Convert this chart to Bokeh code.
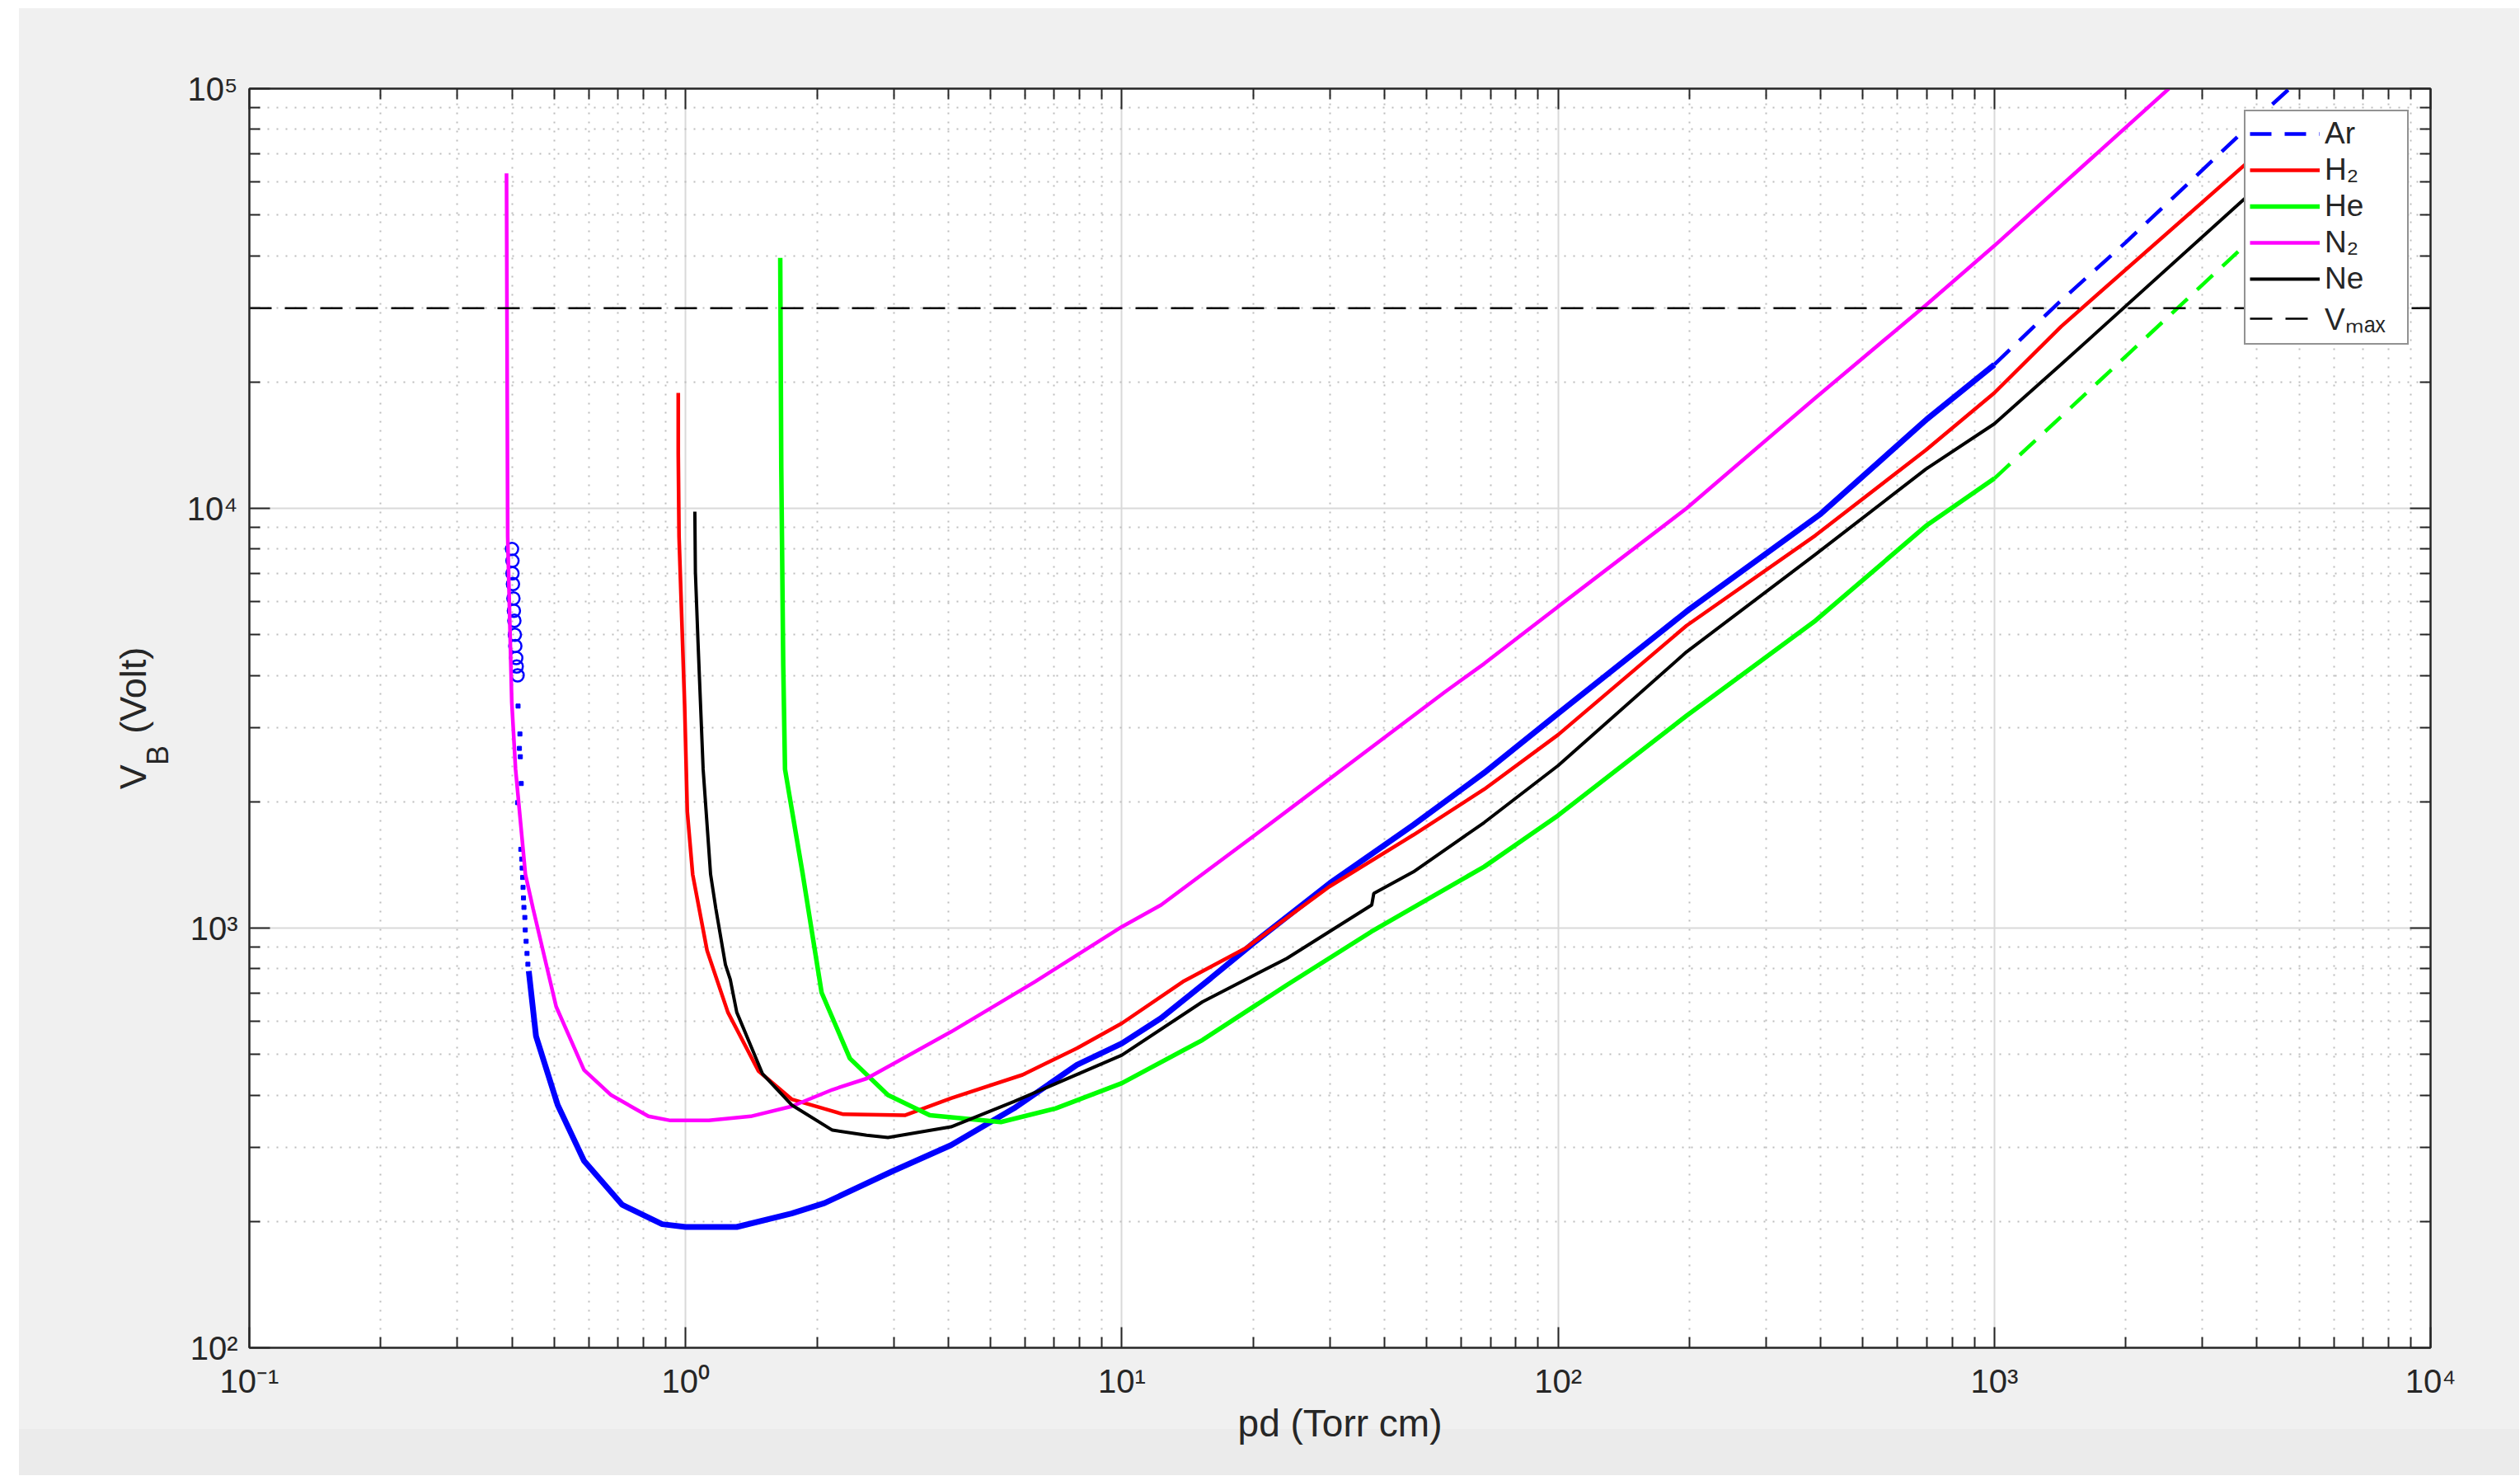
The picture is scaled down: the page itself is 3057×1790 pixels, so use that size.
from bokeh.plotting import figure
from bokeh.models import FixedTicker, LogAxis, Legend, LegendItem, Title, BasicTickFormatter
from bokeh.embed import file_html
from bokeh.resources import INLINE

# ---------------- axes / ticks ----------------
X_RANGE = (0.1, 1e4)
Y_RANGE = (1e2, 1e5)
X_MAJOR = [0.1, 1, 10, 100, 1000, 10000]
X_EXP = ["-1", "0", "1", "2", "3", "4"]
Y_MAJOR = [100, 1000, 10000, 100000]
Y_EXP = ["2", "3", "4", "5"]
X_MINOR = [m * d for d in [0.1, 1, 10, 100, 1000] for m in range(2, 10)]
Y_MINOR = [m * d for d in [100, 1000, 10000] for m in range(2, 10)]

X_TITLE = "pd (Torr cm)"
Y_TITLE_MAIN, Y_TITLE_SUB, Y_TITLE_UNIT = "V", "B", "(Volt)"

# ---------------- data ----------------
# Ar : circles, dots, solid line, dashed extrapolation
AR_CIRC_X = [0.400, 0.401, 0.401, 0.402, 0.403, 0.404, 0.405, 0.406, 0.407, 0.409, 0.410, 0.412]
AR_CIRC_Y = [8000, 7500, 7000, 6600, 6100, 5700, 5400, 5000, 4700, 4400, 4200, 4000]
AR_DOT_X = [0.413, 0.417, 0.416, 0.418, 0.420, 0.412, 0.419, 0.421, 0.422, 0.423, 0.424,
            0.425, 0.426, 0.428, 0.429, 0.431, 0.433, 0.435]
AR_DOT_Y = [3380, 2900, 2680, 2560, 2210, 1990, 1540, 1460, 1390, 1320, 1250,
            1180, 1120, 1060, 990, 930, 870, 820]
AR_X = [0.437, 0.454, 0.509, 0.585, 0.716, 0.884, 1.0, 1.31, 1.75, 2.08, 2.97, 4.06, 5.66,
        7.89, 10, 12.3, 16, 20, 30, 46.6, 67.7, 100, 200, 400, 700, 1000]
AR_Y = [790, 553, 379, 279, 219, 197, 194, 194, 209, 221, 263, 304, 372,
        472, 531, 610, 760, 920, 1280, 1761, 2344, 3245, 5750, 9700, 16300, 22000]
AR_DASH_X = [1000, 1400, 2000, 3000, 4000, 4750]
AR_DASH_Y = [22000, 30800, 43000, 64000, 85000, 100000]

H2_X = [0.962, 0.962, 0.966, 0.995, 1.009, 1.038, 1.12, 1.25, 1.47, 1.75, 2.08, 2.3, 3.18,
        4.06, 5.92, 7.89, 10, 13.8, 19.2, 29.9, 46.6, 67.7, 100, 197, 389, 697, 1000,
        1422, 3793, 5000]
H2_Y = [18840, 13500, 8570, 3376, 1896, 1343, 884, 630, 456, 391, 371, 360, 358,
        393, 447, 517, 593, 745, 895, 1255, 1667, 2141, 2887, 5255, 8620, 13770, 18840,
        27100, 66500, 85600]

HE_X = [1.648, 1.657, 1.663, 1.674, 1.69, 1.856, 2.05, 2.38, 2.91, 3.63, 5.28, 7.06, 10,
        15.3, 23.9, 37.3, 67.7, 100, 197, 389, 697, 1000]
HE_Y = [39500, 12500, 8570, 4260, 2390, 1343, 702, 489, 400, 358, 345, 372, 427,
        541, 732, 980, 1400, 1855, 3206, 5400, 9080, 11780]
HE_DASH_X = [1000, 1422, 3630, 5000]
HE_DASH_Y = [11780, 16530, 41000, 55000]

N2_X = [0.3886, 0.391, 0.3995, 0.4076, 0.4293, 0.447, 0.505, 0.585, 0.675, 0.822, 0.923,
        1.13, 1.41, 1.75, 2.17, 2.60, 4.06, 6.32, 10, 12.3, 21.7, 55, 67.7, 100, 197,
        389, 697, 1000, 2512]
N2_Y = [62800, 8570, 3454, 2390, 1343, 1113, 650, 459, 400, 356, 348,
        348, 356, 376, 412, 438, 566, 745, 1007, 1135, 1761, 3650, 4266, 5833, 10000,
        18340, 30500, 42230, 100000]

NE_X = [1.05, 1.053, 1.068, 1.097, 1.141, 1.173, 1.234, 1.266, 1.31, 1.50, 1.75, 2.17,
        2.60, 2.91, 4.06, 5.66, 10, 15.3, 23.9, 37.4, 37.8, 46.6, 67.7, 100, 197, 389,
        697, 1000, 1422, 3793, 5000]
NE_Y = [9820, 7060, 4770, 2390, 1343, 1113, 818, 754, 630, 450, 379, 330,
        321, 317, 336, 386, 498, 667, 847, 1135, 1209, 1361, 1784, 2438, 4550, 7765,
        12400, 15900, 22010, 55300, 71200]

VMAX = 30000

# ---------------- styling ----------------
FONT = "Liberation Sans"
TXT = "#262626"
BLUE, RED, GREEN, MAGENTA, BLACK = "#0000ff", "#ff0000", "#00ff00", "#ff00ff", "#000000"
NB = "\u00a0"
SUP = {"-": "\u207b", "0": "\u2070", "1": "\u00b9", "2": "\u00b2", "3": "\u00b3",
       "4": "\u2074", "5": "\u2075"}

p = figure(
    x_axis_type="log", y_axis_type="log",
    x_range=X_RANGE, y_range=Y_RANGE,
    frame_width=2646, frame_height=1527,
    min_border_left=302, min_border_right=108, min_border_top=107, min_border_bottom=155,
    output_backend="svg", toolbar_location=None,
    background_fill_color="white", border_fill_color=None,
)
p.styles = {
    "background": "linear-gradient(to right, #ffffff 23px, rgba(255,255,255,0) 23px), "
                  "linear-gradient(to bottom, #ffffff 10px, #f0f0f0 10px, #f0f0f0 1733px, #ebebeb 1733px)"
}
p.outline_line_color = TXT
p.outline_line_width = 2

xt = FixedTicker(ticks=X_MAJOR, minor_ticks=X_MINOR)
yt = FixedTicker(ticks=Y_MAJOR, minor_ticks=Y_MINOR)


def style_axis(ax, ticker, labels=None):
    ax.ticker = ticker
    ax.formatter = BasicTickFormatter()
    ax.axis_line_color = TXT
    ax.axis_line_width = 2
    ax.major_tick_line_color = TXT
    ax.major_tick_line_width = 2
    ax.minor_tick_line_color = TXT
    ax.minor_tick_line_width = 2
    ax.major_tick_in = 25
    ax.major_tick_out = 0
    ax.minor_tick_in = 13
    ax.minor_tick_out = 0
    if labels is None:
        ax.major_label_text_font_size = "2px"
        ax.major_label_text_alpha = 0
        ax.major_label_standoff = 0
    else:
        ax.major_label_overrides = labels
        ax.major_label_text_font = FONT
        ax.major_label_text_font_size = "40px"
        ax.major_label_text_color = TXT


x_labels = {v: "10" + "".join(SUP[c] for c in e) for v, e in zip(X_MAJOR, X_EXP)}
y_labels = {v: "10" + "".join(SUP[c] for c in e) for v, e in zip(Y_MAJOR, Y_EXP)}

xa = p.xaxis[0]
ya = p.yaxis[0]
style_axis(xa, xt, x_labels)
style_axis(ya, yt, y_labels)
xa.major_label_standoff = 18
ya.major_label_standoff = 14

xa.axis_label = X_TITLE
xa.axis_label_text_font = FONT
xa.axis_label_text_font_size = "46px"
xa.axis_label_text_font_style = "normal"
xa.axis_label_text_color = TXT
xa.axis_label_standoff = 0

# subscript "B" of V_B, as the y axis' own label (padded so it sits after the V)
ya.axis_label = Y_TITLE_SUB + NB * 9
ya.axis_label_text_font = FONT
ya.axis_label_text_font_size = "36px"
ya.axis_label_text_font_style = "normal"
ya.axis_label_text_color = TXT
ya.axis_label_standoff = 12

top_ax = LogAxis()
right_ax = LogAxis()
style_axis(top_ax, xt)
style_axis(right_ax, yt)
p.add_layout(top_ax, "above")
p.add_layout(right_ax, "right")

# "V   (Volt)" outside the subscript
p.add_layout(Title(text=Y_TITLE_MAIN + NB * 3 + Y_TITLE_UNIT, align="center",
                   vertical_align="bottom", standoff=-38, text_font=FONT,
                   text_font_size="45px", text_font_style="normal", text_color=TXT), "left")

for g, t in ((p.xgrid[0], xt), (p.ygrid[0], yt)):
    g.ticker = t
    g.grid_line_color = "#d9d9d9"
    g.grid_line_width = 2
    g.minor_grid_line_color = "#bdbdbd"
    g.minor_grid_line_width = 2
    g.minor_grid_line_dash = "2 9"

# ---------------- curves ----------------
r_ar_c = p.scatter(AR_CIRC_X, AR_CIRC_Y, marker="circle", size=15, fill_color=None,
                   line_color=BLUE, line_width=2.5)
r_ar_d = p.scatter(AR_DOT_X, AR_DOT_Y, marker="square", size=5, fill_color=BLUE,
                   line_color=BLUE)
r_ar = p.line(AR_X, AR_Y, line_color=BLUE, line_width=7)
r_ar_dash = p.line(AR_DASH_X, AR_DASH_Y, line_color=BLUE, line_width=4.5, line_dash="26 16")
r_h2 = p.line(H2_X, H2_Y, line_color=RED, line_width=4.5)
r_he = p.line(HE_X, HE_Y, line_color=GREEN, line_width=5.5)
r_he_dash = p.line(HE_DASH_X, HE_DASH_Y, line_color=GREEN, line_width=4.5, line_dash="26 16")
r_n2 = p.line(N2_X, N2_Y, line_color=MAGENTA, line_width=4.5)
r_ne = p.line(NE_X, NE_Y, line_color=BLACK, line_width=4)
r_vmax = p.line([X_RANGE[0], X_RANGE[1]], [VMAX, VMAX], line_color=BLACK, line_width=2.5,
                line_dash="27 16")

legend = Legend(
    items=[
        LegendItem(label="Ar", renderers=[r_ar_dash]),
        LegendItem(label="H\u2082", renderers=[r_h2]),
        LegendItem(label="He", renderers=[r_he]),
        LegendItem(label="N\u2082", renderers=[r_n2]),
        LegendItem(label="Ne", renderers=[r_ne]),
        LegendItem(label="V\u2098\u2090\u2093", renderers=[r_vmax]),
    ],
    location="top_right", margin=26, padding=5, spacing=0,
    glyph_width=85, glyph_height=44, label_height=44, label_width=95, label_standoff=6,
    label_text_font=FONT, label_text_font_size="37px", label_text_color=TXT,
    border_line_color=TXT, border_line_width=2,
    background_fill_color="white", background_fill_alpha=1.0,
)
p.add_layout(legend, "center")

open("out.html", "w").write(file_html(p, INLINE))
